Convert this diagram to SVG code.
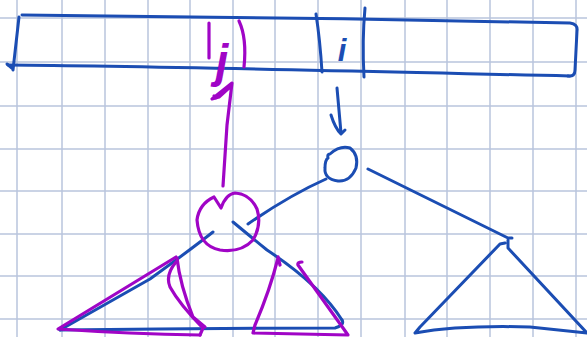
<svg xmlns="http://www.w3.org/2000/svg" width="587" height="337" viewBox="0 0 587 337">
<style>
.grid line{stroke:#b9c5dd;stroke-width:1.5}
.b{fill:none;stroke:#1b4db3;stroke-width:3;stroke-linecap:round;stroke-linejoin:round}
.p{fill:none;stroke:#a005c6;stroke-width:3.2;stroke-linecap:round;stroke-linejoin:round}
.t{font-family:"Liberation Sans",Arial,sans-serif;font-style:italic;font-weight:bold}
</style>
<rect width="587" height="337" fill="#ffffff"/>
<g class="grid">
<line x1="17" y1="0" x2="17" y2="337"/><line x1="62" y1="0" x2="62" y2="337"/><line x1="105" y1="0" x2="105" y2="337"/><line x1="148" y1="0" x2="148" y2="337"/><line x1="190" y1="0" x2="190" y2="337"/><line x1="233" y1="0" x2="233" y2="337"/><line x1="275" y1="0" x2="275" y2="337"/><line x1="318" y1="0" x2="318" y2="337"/><line x1="361" y1="0" x2="361" y2="337"/><line x1="405" y1="0" x2="405" y2="337"/><line x1="447" y1="0" x2="447" y2="337"/><line x1="490" y1="0" x2="490" y2="337"/><line x1="533" y1="0" x2="533" y2="337"/><line x1="576" y1="0" x2="576" y2="337"/>
<line x1="0" y1="18" x2="587" y2="18"/><line x1="0" y1="62" x2="587" y2="62"/><line x1="0" y1="106" x2="587" y2="106"/><line x1="0" y1="149" x2="587" y2="149"/><line x1="0" y1="191" x2="587" y2="191"/><line x1="0" y1="234" x2="587" y2="234"/><line x1="0" y1="276" x2="587" y2="276"/><line x1="0" y1="319" x2="587" y2="319"/>
</g>
<g id="array">
<path class="b" d="M22,15 C150,16 400,19 570,23 Q578,24 577,31 L575,70 Q575,77 568,76"/>
<path class="b" d="M8,65 C150,66 300,70 570,76"/>
<path class="b" d="M19,17 L13,70 M7,64 L13,69"/>
<path class="b" d="M316,14 Q320,40 322,72"/>
<path class="b" d="M365,8 Q362,40 364,77"/>
<text class="t" x="342" y="61" font-size="31" fill="#1b4db3" text-anchor="middle">i</text>
<path class="p" d="M209,23 L209,58"/>
<path class="p" d="M239,21 Q247,38 244,67"/>
<text class="t" x="222" y="77" font-size="46" fill="#a005c6" text-anchor="middle">j</text>
</g>
<g id="connectors">
<path class="p" d="M223,186 L227,125 L232,83 L222,91 L212,99 L219,97 L230,87 L216,98 L214,96"/>
<path class="b" d="M337,88 L341,133 M331,115 Q335,128 341,134 L345,130"/>
<path class="b" d="M326,179 Q290,195 248,224"/>
<path class="b" d="M368,169 L508,238 L512,238"/>
<path class="b" d="M213,232 Q190,250 150,279 L60,330"/>
<path class="b" d="M233,222 Q245,232 267,250 Q320,285 342,320"/>
</g>
<g id="node-blue">
<path class="b" d="M330,154 Q340,145 350,148 Q359,155 356,168 Q350,182 338,181 Q324,179 325,168 Q325,160 328,158 Q327,154 330,154 Z"/>
</g>
<g id="node-purple">
<path class="p" d="M221,208 L214,197 Q199,204 197,220 Q199,246 220,250 Q241,253 253,240 Q262,225 257,209 Q250,194 235,193 Q226,194 221,208 Z"/>
</g>
<g id="subtree-left">
<path class="b" d="M60,330 Q200,328 335,328 Q345,325 342,320"/>
<path class="p" d="M176,257 L58,329 Q130,334 200,335"/>
<path class="p" d="M176,262 Q165,275 170,287 Q180,305 203,328 L200,335"/>
<path class="p" d="M177,258 Q180,285 193,317 L205,327"/>
</g>
<g id="subtree-purple">
<path class="p" d="M278,257 L280,265 M278,258 Q270,290 255,325 L253,333 L348,335 L298,265 Q297,262 302,262"/>
</g>
<g id="subtree-right">
<path class="b" d="M505,243 L500,244 L420,327 L415,333 Q460,325 530,327 L587,333 L508,248 L508,240"/>
</g>
</svg>
